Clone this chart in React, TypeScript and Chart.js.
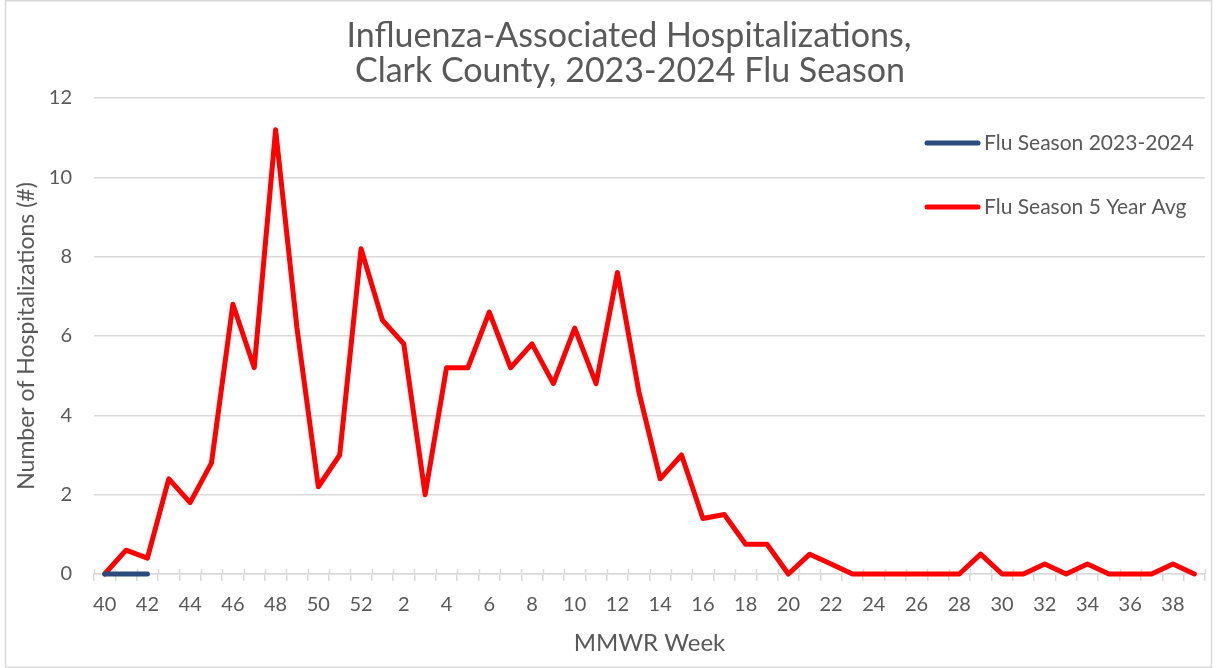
import React, { useEffect, useRef } from "react";
import { Chart, registerables } from "chart.js";

Chart.register(...registerables);

const weekLabels: string[] = [
  "40", "41", "42", "43", "44", "45", "46", "47", "48", "49", "50", "51", "52",
  "1", "2", "3", "4", "5", "6", "7", "8", "9", "10", "11", "12", "13", "14", "15",
  "16", "17", "18", "19", "20", "21", "22", "23", "24", "25", "26", "27", "28", "29",
  "30", "31", "32", "33", "34", "35", "36", "37", "38", "39",
];

const season2023_2024: (number | null)[] = [0, 0, 0];

const fiveYearAvg: number[] = [
  0, 0.6, 0.4, 2.4, 1.8, 2.8, 6.8, 5.2, 11.2, 6.2, 2.2, 3.0, 8.2,
  6.4, 5.8, 2.0, 5.2, 5.2, 6.6, 5.2, 5.8, 4.8, 6.2, 4.8, 7.6, 4.6, 2.4, 3.0,
  1.4, 1.5, 0.75, 0.75, 0, 0.5, 0.25, 0, 0, 0, 0, 0, 0, 0.5,
  0, 0, 0.25, 0, 0.25, 0, 0, 0, 0.25, 0,
];

const titleLines = ["Influenza-Associated Hospitalizations,", "Clark County, 2023-2024 Flu Season"];
const yTitle = "Number of Hospitalizations (#)";
const xTitle = "MMWR Week";

const TEXT = "#595959";
const GRID = "#d9d9d9";
const FONT = "Lato";

const frameAndTicks = {
  id: "frameAndTicks",
  beforeDraw(chart: any) {
    const { ctx, width, height } = chart;
    ctx.save();
    ctx.fillStyle = "#ffffff";
    ctx.fillRect(0, 0, width, height);
    ctx.strokeStyle = GRID;
    ctx.lineWidth = 1.5;
    ctx.strokeRect(5.5, 0.75, width - 10, height - 1.5);
    ctx.restore();
  },
  beforeDatasetsDraw(chart: any) {
    const { ctx } = chart;
    const xs = chart.scales.x;
    const n = chart.data.labels.length;
    const half = (xs.getPixelForValue(1) - xs.getPixelForValue(0)) / 2;
    ctx.save();
    ctx.strokeStyle = GRID;
    ctx.lineWidth = 1.5;
    for (let i = 0; i <= n; i++) {
      const x = Math.round(xs.getPixelForValue(i) - half) + 0.5;
      ctx.beginPath();
      ctx.moveTo(x, xs.top - 5);
      ctx.lineTo(x, xs.top);
      ctx.stroke();
    }
    ctx.restore();
  },
  afterDraw(chart: any) {
    const { ctx } = chart;
    ctx.save();
    ctx.fillStyle = TEXT;
    ctx.font = `34px ${FONT}`;
    ctx.textAlign = "center";
    ctx.textBaseline = "alphabetic";
    ctx.fillText(titleLines[0], 629, 47);
    ctx.fillText(titleLines[1], 630, 82);
    ctx.restore();
  },
};

const insideLegend = {
  id: "insideLegend",
  afterDatasetsDraw(chart: any) {
    const { ctx, chartArea } = chart;
    const x0 = chartArea.right - 280;
    const rows = [chartArea.top + 45, chartArea.top + 109];
    ctx.save();
    chart.data.datasets.forEach((ds: any, i: number) => {
      const y = rows[i];
      ctx.strokeStyle = ds.borderColor;
      ctx.lineWidth = 5;
      ctx.lineCap = "round";
      ctx.beginPath();
      ctx.moveTo(x0 + 2, y);
      ctx.lineTo(x0 + 53, y);
      ctx.stroke();
      ctx.fillStyle = TEXT;
      ctx.font = `21px ${FONT}`;
      ctx.textAlign = "left";
      ctx.textBaseline = "middle";
      ctx.fillText(ds.label, x0 + 59, y);
    });
    ctx.restore();
  },
};

export default function App() {
  const ref = useRef<HTMLCanvasElement | null>(null);

  useEffect(() => {
    if (!ref.current) return;
    const chart = new Chart(ref.current, {
      type: "line",
      data: {
        labels: weekLabels,
        datasets: [
          {
            label: "Flu Season 2023-2024",
            data: season2023_2024,
            borderColor: "#2b4a7e",
            backgroundColor: "#2b4a7e",
            borderWidth: 5,
            borderCapStyle: "round",
            borderJoinStyle: "round",
            pointRadius: 0,
            tension: 0,
            spanGaps: false,
            clip: false,
          },
          {
            label: "Flu Season 5 Year Avg",
            data: fiveYearAvg,
            borderColor: "#ff0000",
            backgroundColor: "#ff0000",
            borderWidth: 5,
            borderCapStyle: "round",
            borderJoinStyle: "round",
            pointRadius: 0,
            tension: 0,
            clip: false,
          },
        ],
      },
      options: {
        animation: false,
        responsive: false,
        devicePixelRatio: 1,
        layout: { padding: { left: 0, right: 11, top: 98, bottom: 0 } },
        plugins: {
          legend: { display: false },
          tooltip: { enabled: false },
          title: { display: false },
        },
        scales: {
          x: {
            type: "category",
            offset: true,
            afterFit(scale: any) {
              scale.height = 94;
            },
            grid: {
              offset: true,
              drawOnChartArea: false,
              drawTicks: true,
              tickLength: 7,
              color: GRID,
              lineWidth: 1.5,
            },
            border: { display: true, color: GRID, width: 1.5 },
            ticks: {
              autoSkip: false,
              maxRotation: 0,
              minRotation: 0,
              color: TEXT,
              padding: 12,
              font: { family: FONT, size: 20 },
              callback(_v: any, index: number) {
                return index % 2 === 0 ? weekLabels[index] : "";
              },
            },
            title: {
              display: true,
              text: xTitle,
              color: TEXT,
              font: { family: FONT, size: 24 },
              padding: { top: 0, bottom: 10 },
            },
          },
          y: {
            min: 0,
            max: 12,
            afterFit(scale: any) {
              scale.width = 94;
            },
            grid: { color: GRID, lineWidth: 1.5, drawTicks: false },
            border: { display: false },
            ticks: {
              stepSize: 2,
              color: TEXT,
              padding: 22,
              font: { family: FONT, size: 20 },
            },
            title: {
              display: true,
              text: yTitle,
              color: TEXT,
              font: { family: FONT, size: 23 },
              padding: { top: 13, bottom: 0 },
            },
          },
        },
      },
      plugins: [frameAndTicks, insideLegend],
    });
    return () => chart.destroy();
  }, []);

  return (
    <div style={{ position: "fixed", left: 0, top: 0, width: 1216, height: 668, background: "#fff" }}>
      <canvas ref={ref} width={1216} height={668} />
    </div>
  );
}
